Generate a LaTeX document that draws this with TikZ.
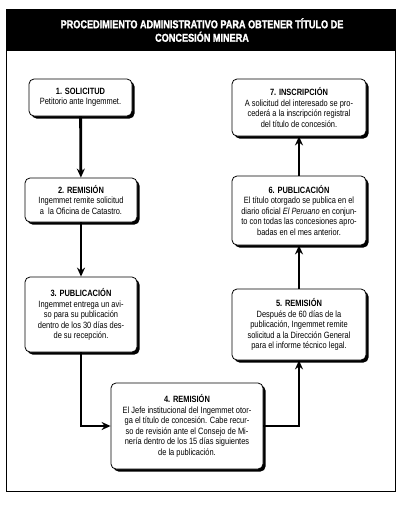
\documentclass[tikz,border=0pt]{standalone}
\usepackage{fontspec}
\setmainfont[FakeStretch=0.82]{Liberation Sans}
\newfontfamily\titlefont[FakeStretch=0.8, FakeBold=1.6]{Liberation Sans Bold}
\usetikzlibrary{arrows.meta,shadows}

\begin{document}
\begin{tikzpicture}[x=1pt, y=-1pt,
  stepbox/.style={draw, rounded corners=5pt, fill=white, line width=0.8pt,
    align=center, inner sep=1pt,
    drop shadow={shadow xshift=2.5pt, shadow yshift=-2.5pt, fill=black, opacity=1},
    font=\fontsize{9.1}{10.5}\selectfont},
  flow/.style={line width=2.8pt, -{Stealth[length=9pt, width=8pt, inset=3pt]}}]
\useasboundingbox (0,0) rectangle (407,509);
% frame and header
\draw [line width=1pt] (6,9) rectangle (395,491);
\fill [black] (6,9) rectangle (395,51);
\node (title) [white, align=center, font=\titlefont\fontsize{11.4}{13.5}\selectfont] at (202,30)
  {PROCEDIMIENTO ADMINISTRATIVO PARA OBTENER TÍTULO DE\\CONCESIÓN MINERA};
% left column
\node (s1) [stepbox, minimum width=103, minimum height=37] at (80.5,97.5)
  {\textbf{1. SOLICITUD}\\Petitorio ante Ingemmet.};
\node (s2) [stepbox, minimum width=112, minimum height=44] at (81,200)
  {\textbf{2. REMISIÓN}\\Ingemmet remite solicitud\\a\ \ la Oficina de Catastro.};
\node (s3) [stepbox, minimum width=112, minimum height=75] at (81,314.5)
  {\textbf{3. PUBLICACIÓN}\\Ingemmet entrega un avi-\\so para su publicación\\dentro de los 30 días des-\\de su recepción.};
% bottom
\node (s4) [stepbox, minimum width=152, minimum height=86] at (187,426)
  {\textbf{4. REMISIÓN}\\El Jefe institucional del Ingemmet otor-\\ga el título de concesión. Cabe recur-\\so de revisión ante el Consejo de Mi-\\nería dentro de los 15 días siguientes\\de la publicación.};
% right column
\node (s5) [stepbox, minimum width=134, minimum height=71] at (299,324.5)
  {\textbf{5. REMISIÓN}\\Después de 60 días de la\\publicación, Ingemmet remite\\solicitud a la Dirección General\\para el informe técnico legal.};
\node (s6) [stepbox, minimum width=134, minimum height=69] at (299,210.5)
  {\textbf{6. PUBLICACIÓN}\\El título otorgado se publica en el\\diario oficial \textit{El Peruano} en conjun-\\to con todas las concesiones apro-\\badas en el mes anterior.};
\node (s7) [stepbox, minimum width=134, minimum height=57] at (299,107.5)
  {\textbf{7. INSCRIPCIÓN}\\A solicitud del interesado se pro-\\cederá a la inscripción registral\\del título de concesión.};
% connectors
\draw [flow] (s1) -- (s2);
\draw [flow] (s2) -- (s3);
\draw [flow] (s3.south) |- (s4.west);
\draw [flow] (s4.east) -| (s5.south);
\draw [flow] (s5) -- (s6);
\draw [flow] (s6) -- (s7);
\end{tikzpicture}
\end{document}
